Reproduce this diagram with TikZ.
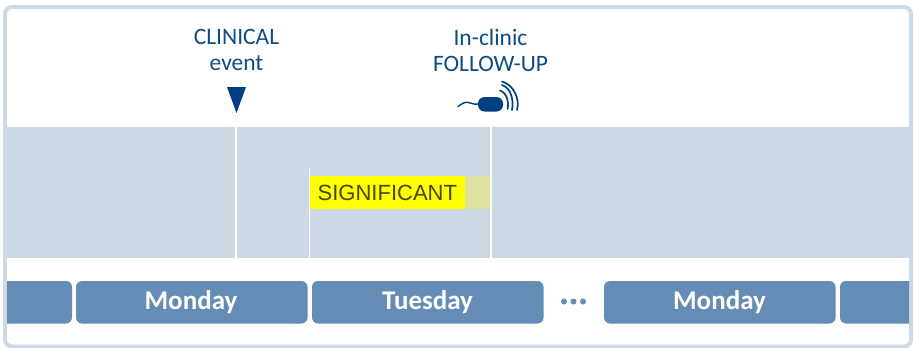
\documentclass[tikz,border=0pt]{standalone}
\usepackage{fontspec}
\setmainfont{Carlito}
\newfontfamily\arialish{Liberation Sans}
\definecolor{navy}{HTML}{0F4C81}
\definecolor{iconblue}{HTML}{004080}
\definecolor{framec}{HTML}{CCD9E6}
\definecolor{bandc}{HTML}{CCD9E5}
\definecolor{dayc}{HTML}{648CB4}
\definecolor{hlc}{HTML}{FFFF00}
\definecolor{hlfade}{HTML}{DDE29F}
\tikzset{
  x=1pt,y=-1pt,
  caption/.style={align=center,text=navy,font=\fontsize{23.5}{26}\selectfont,inner sep=0pt},
  daybox/.style={fill=dayc,rounded corners=6pt},
  daylabel/.style={text=white,font=\fontsize{27}{30}\selectfont\bfseries,inner sep=0pt},
  guide/.style={draw=white,line width=1.6pt},
  dot/.style={circle,fill=dayc,minimum size=6pt,inner sep=0pt},
}
\begin{document}
\begin{tikzpicture}
\useasboundingbox (0,0) rectangle (913,348);
\fill[white] (0,0) rectangle (913,348);
% frame
\draw[framec,line width=4pt,rounded corners=7pt] (5,7) rectangle (911,346.5);
% band
\fill[bandc] (7,127) rectangle (909,257.5);
% highlight
\fill[hlfade] (465,176) rectangle (491,209);
\node[fill=hlc,text=black!72!hlc,font=\arialish\fontsize{22}{24}\selectfont,inner sep=0pt,anchor=west,minimum height=33pt,minimum width=155pt,align=left,text width=150pt] (sig) at (310,192.5) {\hspace*{5pt}SIGNIFICANT};
% guides
\coordinate (g1a) at (236,127); \coordinate (g1b) at (236,258);
\coordinate (g2a) at (309.5,168); \coordinate (g2b) at (309.5,258);
\coordinate (g3a) at (491,127); \coordinate (g3b) at (491,258);
\draw[guide] (g1a) -- (g1b);
\draw[guide] (g2a) -- (g2b);
\draw[guide] (g3a) -- (g3b);
% captions
\node[caption] (clin) at (236.5,50) {CLINICAL\\event};
\node[caption] (inclin) at (490.5,50) {In-clinic\\FOLLOW-UP};
% marker
\fill[iconblue] (227,87) -- (246,87) -- (236.5,113) -- cycle;
% device
\fill[iconblue,rounded corners=6.5pt] (478,97) -- (503,97) -- (503,111.5) -- (478,111.5) -- cycle;
\draw[iconblue,line width=1.4pt,line cap=round] (458,106.5) .. controls (463,103) and (466,101) .. (470,103) .. controls (473,104.5) and (476,104.5) .. (480,103.5);
\draw[iconblue,line width=1.7pt,line cap=round] (500,90.5) .. controls (507,93) and (509,102) .. (507.5,109);
\draw[iconblue,line width=1.7pt,line cap=round] (502,85) .. controls (511,88) and (514,100) .. (512,110);
\draw[iconblue,line width=1.7pt,line cap=round] (502,83) ++(0,-1.5) .. controls (514,85) and (520,99) .. (517,110);
% days
\begin{scope}
\clip (7,270) rectangle (909,335);
\fill[daybox] (-20,281) rectangle (72,323.5);
\fill[daybox] (840,281) rectangle (940,323.5);
\end{scope}
\fill[daybox] (76,281) rectangle (307.5,323.5);
\fill[daybox] (312,281) rectangle (543.5,323.5);
\fill[daybox] (604,281) rectangle (835.5,323.5);
\node[daylabel] (mon1) at (191,302.5) {Monday};
\node[daylabel] (tue) at (427.5,302.5) {Tuesday};
\node[daylabel] (mon2) at (719.5,302.5) {Monday};
\node[dot] (d1) at (564,301.5) {};
\node[dot] (d2) at (573.5,301.5) {};
\node[dot] (d3) at (583,301.5) {};
\end{tikzpicture}
\end{document}
